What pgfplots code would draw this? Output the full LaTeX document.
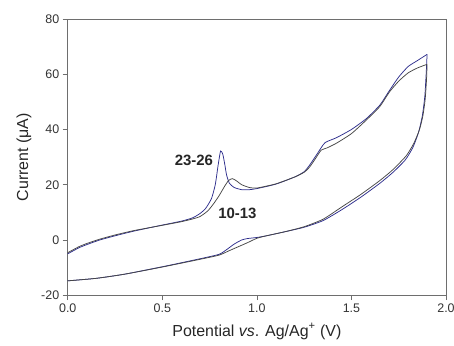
\documentclass[border=0pt]{standalone}
\usepackage{pgfplots}
\pgfplotsset{compat=1.18}
\usepackage{fontspec}
\setmainfont{Liberation Sans}
\definecolor{cvblue}{RGB}{45,45,140}
\definecolor{cvblack}{RGB}{70,70,70}
\definecolor{axgray}{RGB}{110,110,110}
\begin{document}
\begin{tikzpicture}
\begin{axis}[
  name=ax,
  scale only axis,
  width=378bp, height=276bp,
  xmin=0, xmax=2, ymin=-20, ymax=80,
  xtick={0,0.5,1,1.5,2}, xticklabels={0.0,0.5,1.0,1.5,2.0},
  ytick={-20,0,20,40,60,80}, yticklabels={-20,0,20,40,60,80},
  tick align=outside, xtick pos=left, ytick pos=left,
  major tick length=5bp,
  axis line style={axgray, line width=0.7pt},
  every tick/.style={axgray, line width=0.7pt},
  tick label style={font=\fontsize{12.5}{14}\selectfont, text=black!80},
  xlabel={Potential \textit{vs}. Ag/Ag\textsuperscript{+} (V)},
  ylabel={Current (μA)},
  label style={font=\fontsize{16}{18}\selectfont, text=black!85},
  xlabel style={yshift=-4bp},
  ylabel style={yshift=3bp},
  clip=false,
]
% 23-26 (blue)
\addplot[cvblue, line width=0.75pt, smooth, tension=0.35] coordinates {
(0,-5) (0.03,-3.9) (0.06,-2.8) (0.1,-1.7) (0.17,0) (0.25,1.5) (0.35,3.2) (0.5,5.4) (0.6,6.8) (0.66,8) (0.7,9.6)
(0.73,11.5) (0.76,15) (0.78,20) (0.795,27) (0.808,32.2) (0.82,31) (0.83,27.5) (0.84,23.5) (0.855,20.5)
(0.88,19) (0.92,18.2) (0.96,18.2) (1.0,18.6) (1.1,20.2) (1.2,22.8) (1.25,24.7) (1.28,27.2) (1.32,31.3)
(1.36,35.2) (1.42,37) (1.5,40) (1.58,44) (1.65,48.8) (1.7,54) (1.75,59) (1.8,62.8) (1.85,65) (1.9,67.2)
};
\addplot[cvblue, line width=0.75pt, smooth, tension=0.35] coordinates {
(1.9,67.2) (1.895,60) (1.888,52) (1.875,45) (1.855,39) (1.825,33.5) (1.785,29) (1.72,24.5) (1.65,20.5)
(1.55,15.5) (1.45,11) (1.35,7) (1.25,4.6) (1.15,3) (1.05,1.5) (1.0,0.9) (0.95,0.5) (0.92,0) (0.88,-1.5)
(0.84,-3.5) (0.8,-5.2) (0.7,-6.8) (0.5,-9.7) (0.3,-12.4) (0.15,-13.9) (0,-14.8)
};
% 10-13 (black)
\addplot[cvblack, line width=0.75pt, smooth, tension=0.35] coordinates {
(0,-4.6) (0.03,-3.5) (0.06,-2.4) (0.1,-1.3) (0.17,0.3) (0.25,1.8) (0.35,3.4) (0.5,5.3) (0.6,6.6) (0.66,7.6) (0.7,8.5)
(0.74,10.5) (0.77,13) (0.8,16) (0.83,19.5) (0.85,21.5) (0.87,22.2) (0.89,21.5) (0.92,20) (0.96,19)
(1.0,18.8) (1.1,20.3) (1.2,22.8) (1.25,24.5) (1.28,26.5) (1.31,29.5) (1.34,32.5) (1.37,33.3) (1.42,35)
(1.5,38.5) (1.58,43.5) (1.65,48.3) (1.7,53.5) (1.75,57.5) (1.8,60.5) (1.85,62.3) (1.9,63.6)
};
\addplot[cvblack, line width=0.75pt, smooth, tension=0.35] coordinates {
(1.9,63.6) (1.897,58) (1.89,51) (1.878,45) (1.86,40) (1.83,35) (1.79,30.5) (1.72,25.5) (1.65,21.5)
(1.55,16.5) (1.45,12) (1.35,7.5) (1.25,4.8) (1.15,3) (1.05,1.5) (1.0,0.6) (0.95,-1) (0.9,-2.5)
(0.85,-4) (0.8,-5.5) (0.7,-7) (0.5,-9.8) (0.3,-12.4) (0.15,-13.9) (0,-14.8)
};
\node[font=\fontsize{15}{17}\selectfont\bfseries, text=black!85] at (axis cs:0.667,28.9) {23-26};
\node[font=\fontsize{15}{17}\selectfont\bfseries, text=black!85] at (axis cs:0.897,9.8) {10-13};
\end{axis}
\pgfresetboundingbox
\path[use as bounding box] ([shift={(-67.7bp,-50bp)}]ax.south west) rectangle ([shift={(8bp,19bp)}]ax.north east);
\end{tikzpicture}
\end{document}
